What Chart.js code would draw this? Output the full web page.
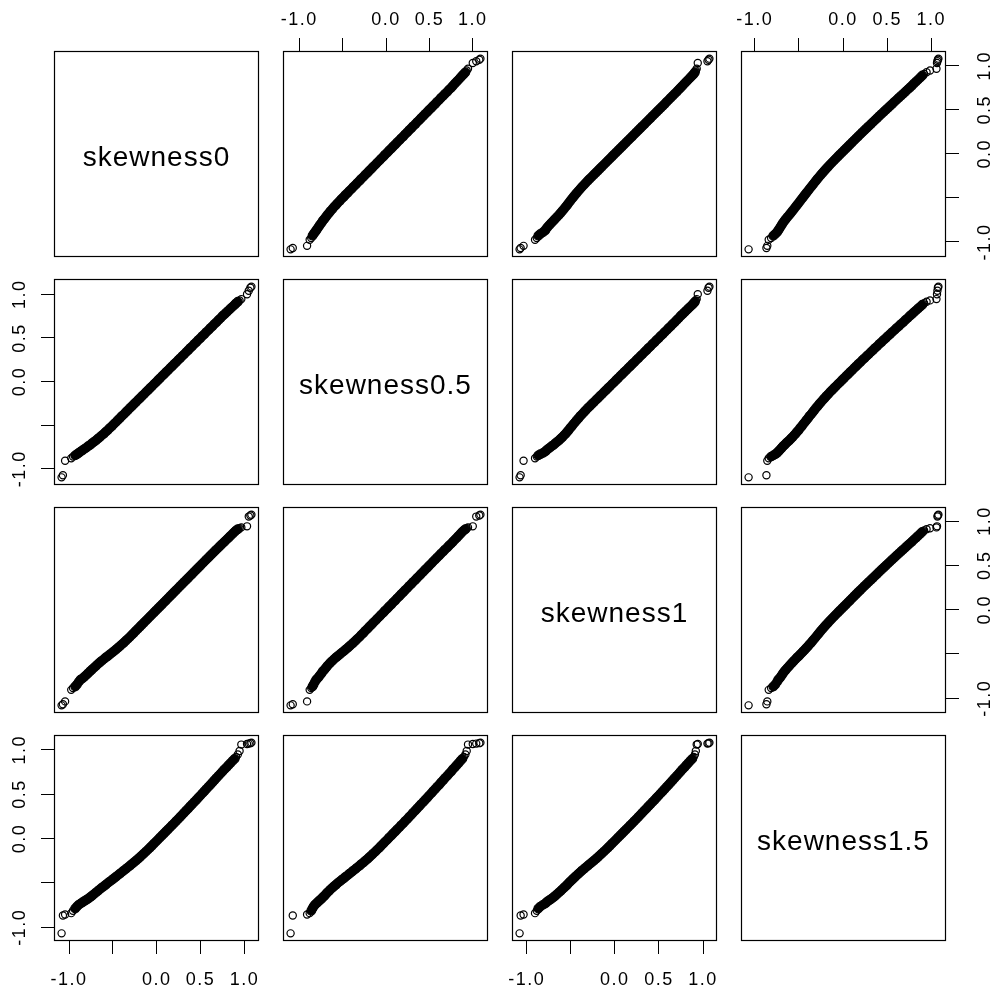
<!DOCTYPE html>
<html>
<head>
<meta charset="utf-8">
<script src="https://cdn.jsdelivr.net/npm/chart.js@4.4.1/dist/chart.umd.min.js"></script>
<style>
  html, body { margin: 0; padding: 0; background: #fff; }
  #wrap { position: relative; width: 998px; height: 993px; overflow: hidden; background: #fff; }
  #wrap canvas { position: absolute; }
</style>
</head>
<body>
<div id="wrap"></div>
<script>
// variable names shown on the diagonal
const varNames = ['skewness0', 'skewness0.5', 'skewness1', 'skewness1.5'];

const skewness0 = [
  -1.085, -1.070, -1.045, -0.975, -0.955, -0.930, -0.910, -0.890, -0.870,
  -0.850, -0.828, -0.805, -0.783, -0.760, -0.741, -0.718, -0.694, -0.672, -0.650,
  -0.627, -0.603, -0.581, -0.560, -0.536, -0.512, -0.490, -0.468, -0.445, -0.421,
  -0.398, -0.376, -0.353, -0.330, -0.306, -0.284, -0.262, -0.238, -0.215, -0.192,
  -0.170, -0.147, -0.123, -0.100, -0.078, -0.055, -0.031, -0.009, 0.014, 0.037,
  0.060, 0.083, 0.105, 0.128, 0.152, 0.175, 0.197, 0.220, 0.244, 0.267,
  0.290, 0.312, 0.336, 0.359, 0.382, 0.404, 0.428, 0.451, 0.474, 0.497,
  0.520, 0.543, 0.566, 0.590, 0.612, 0.635, 0.658, 0.681, 0.705, 0.728,
  0.750, 0.773, 0.797, 0.820, 0.842, 0.866, 0.889, 0.905,
  0.925, 0.945, 0.965, 1.030, 1.050, 1.068, 1.080
];
const skewness05 = [
  -1.100, -1.075, -0.910, -0.880, -0.862, -0.848, -0.835, -0.820, -0.805,
  -0.792, -0.776, -0.761, -0.743, -0.729, -0.711, -0.694, -0.677, -0.657, -0.640,
  -0.618, -0.599, -0.577, -0.559, -0.534, -0.513, -0.489, -0.469, -0.444, -0.422,
  -0.397, -0.377, -0.352, -0.331, -0.305, -0.285, -0.261, -0.239, -0.214, -0.193,
  -0.169, -0.148, -0.122, -0.101, -0.077, -0.056, -0.030, -0.010, 0.015, 0.036,
  0.061, 0.082, 0.106, 0.127, 0.153, 0.174, 0.198, 0.219, 0.245, 0.266,
  0.291, 0.311, 0.337, 0.358, 0.383, 0.403, 0.429, 0.450, 0.475, 0.496,
  0.521, 0.542, 0.567, 0.589, 0.613, 0.634, 0.659, 0.680, 0.706, 0.727,
  0.751, 0.771, 0.794, 0.816, 0.837, 0.859, 0.880, 0.897,
  0.915, 0.930, 0.945, 1.000, 1.040, 1.075, 1.088
];
const skewness1 = [
  -1.080, -1.068, -1.035, -0.905, -0.885, -0.868, -0.845, -0.815, -0.790,
  -0.778, -0.760, -0.739, -0.718, -0.696, -0.678, -0.657, -0.635, -0.615, -0.596,
  -0.577, -0.558, -0.540, -0.525, -0.506, -0.488, -0.470, -0.452, -0.433, -0.412,
  -0.392, -0.373, -0.351, -0.330, -0.307, -0.285, -0.263, -0.239, -0.216, -0.193,
  -0.171, -0.148, -0.124, -0.101, -0.079, -0.056, -0.032, -0.010, 0.013, 0.036,
  0.059, 0.082, 0.104, 0.127, 0.151, 0.174, 0.196, 0.219, 0.243, 0.266,
  0.289, 0.311, 0.335, 0.358, 0.381, 0.403, 0.427, 0.450, 0.473, 0.496,
  0.519, 0.542, 0.565, 0.588, 0.610, 0.633, 0.656, 0.678, 0.702, 0.724,
  0.745, 0.767, 0.790, 0.812, 0.833, 0.856, 0.878, 0.894,
  0.908, 0.918, 0.928, 0.940, 1.050, 1.062, 1.072
];
const skewness15 = [
  -1.070, -0.868, -0.858, -0.842, -0.815, -0.790, -0.768, -0.748, -0.735,
  -0.722, -0.708, -0.694, -0.680, -0.663, -0.648, -0.630, -0.610, -0.592, -0.574,
  -0.556, -0.538, -0.521, -0.504, -0.486, -0.468, -0.451, -0.434, -0.416, -0.397,
  -0.380, -0.362, -0.344, -0.326, -0.307, -0.289, -0.271, -0.251, -0.231, -0.211,
  -0.191, -0.170, -0.148, -0.126, -0.104, -0.082, -0.058, -0.036, -0.013, 0.010,
  0.033, 0.056, 0.078, 0.101, 0.125, 0.148, 0.170, 0.194, 0.218, 0.242,
  0.266, 0.289, 0.314, 0.338, 0.362, 0.385, 0.410, 0.434, 0.459, 0.483,
  0.508, 0.532, 0.557, 0.582, 0.606, 0.631, 0.656, 0.681, 0.706, 0.731,
  0.755, 0.779, 0.803, 0.827, 0.850, 0.875, 0.898, 0.918,
  0.946, 0.985, 1.058, 1.064, 1.069, 1.074, 1.080
];

// axis ticks shared by every panel (R drops the -0.5 label for lack of room)
const tickValues = [-1.0, -0.5, 0.0, 0.5, 1.0];
const tickLabels = ['-1.0', '', '0.0', '0.5', '1.0'];

const series = [skewness0, skewness05, skewness1, skewness15];

// page layout of the 4x4 grid of panels
const colLeft = [54, 283, 512, 741];
const rowTop = [51, 279, 507, 735];
const panelW = 205, panelH = 206;
const M = 50;  // room round each panel for its axes

const tickFont = { family: '"Liberation Sans", Arial, sans-serif', size: 18 };

// R pads the data range by 4% on each side
function axisRange(vals) {
  const lo = Math.min(...vals), hi = Math.max(...vals);
  const pad = (hi - lo) * 0.04;
  return [lo - pad, hi + pad];
}

// points deep inside the band overlap into solid black in the original;
// the sparse tails stay as open circles
function isDense(xs, ys, i) {
  if (i < 2 || i > xs.length - 3) return false;
  const gap = j => Math.max(Math.abs(xs[j] - xs[i]), Math.abs(ys[j] - ys[i]));
  return gap(i - 1) < 0.032 && gap(i + 1) < 0.032 && gap(i - 2) < 0.06 && gap(i + 2) < 0.06;
}

const panelPlugin = {
  id: 'panelBox',
  beforeDraw(chart) {
    chart.ctx.letterSpacing = '1.5px';
  },
  afterDraw(chart) {
    const { ctx, chartArea: a } = chart;
    const label = chart.options.plugins.panelBox.label;
    ctx.save();
    ctx.strokeStyle = '#000';
    ctx.lineWidth = 1.2;
    ctx.strokeRect(a.left + 0.5, a.top + 0.5, a.right - a.left - 1, a.bottom - a.top - 1);
    if (label) {
      ctx.letterSpacing = '1px';
      ctx.fillStyle = '#000';
      ctx.font = '28px "Liberation Sans", Arial, sans-serif';
      ctx.textAlign = 'center';
      ctx.textBaseline = 'alphabetic';
      ctx.fillText(label, (a.left + a.right) / 2, (a.top + a.bottom) / 2 + 12);
    }
    ctx.restore();
  }
};

function makeScale(vals, show, pos, padding, vertical) {
  const [min, max] = axisRange(vals);
  const s = {
    type: 'linear',
    position: pos,
    display: show,
    min: min,
    max: max,
    afterBuildTicks: sc => { sc.ticks = tickValues.map(v => ({ value: v })); },
    grid: { display: true, drawOnChartArea: false, drawTicks: true, tickLength: 13, color: '#000', lineWidth: 1 },
    border: { display: false },
    ticks: {
      color: '#000',
      font: tickFont,
      padding: padding,
      autoSkip: false,
      callback: (v, i) => tickLabels[i]
    }
  };
  if (vertical) {
    s.ticks.minRotation = 90;
    s.ticks.maxRotation = 90;
    s.ticks.crossAlign = 'center';
  } else {
    s.ticks.minRotation = 0;
    s.ticks.maxRotation = 0;
  }
  if (show) {
    s.afterFit = sc => {
      if (vertical) sc.width = M; else sc.height = M;
    };
  }
  return s;
}

const wrap = document.getElementById('wrap');

for (let r = 0; r < 4; r++) {
  for (let c = 0; c < 4; c++) {
    const cv = document.createElement('canvas');
    cv.width = panelW + 2 * M;
    cv.height = panelH + 2 * M;
    cv.style.left = (colLeft[c] - M) + 'px';
    cv.style.top = (rowTop[r] - M) + 'px';
    wrap.appendChild(cv);

    const showTop = r === 0 && c % 2 === 1;
    const showBottom = r === 3 && c % 2 === 0;
    const showLeft = c === 0 && r % 2 === 1;
    const showRight = c === 3 && r % 2 === 0;

    const xs = series[c], ys = series[r];
    const datasets = [];
    if (r !== c) {
      datasets.push({
        data: xs.map((v, i) => ({ x: v, y: ys[i] })),
        pointRadius: ctx => isDense(xs, ys, ctx.dataIndex) ? 4.3 : 3.6,
        pointBorderWidth: 1.2,
        pointBorderColor: '#000',
        pointBackgroundColor: ctx => isDense(xs, ys, ctx.dataIndex) ? '#000' : 'rgba(0,0,0,0)',
        showLine: false
      });
    }

    new Chart(cv, {
      type: 'scatter',
      data: { datasets: datasets },
      options: {
        responsive: false,
        animation: false,
        events: [],
        devicePixelRatio: 1,
        layout: {
          padding: {
            top: showTop ? 0 : M,
            bottom: showBottom ? 0 : M,
            left: showLeft ? 0 : M,
            right: showRight ? 0 : M
          }
        },
        plugins: {
          legend: { display: false },
          tooltip: { enabled: false },
          panelBox: { label: r === c ? varNames[r] : null }
        },
        scales: {
          x: makeScale(xs, showTop || showBottom, showTop ? 'top' : 'bottom', showTop ? 7 : 15, false),
          y: makeScale(ys, showLeft || showRight, showRight ? 'right' : 'left', showLeft ? 5 : 11, true)
        }
      },
      plugins: [panelPlugin]
    });
  }
}
</script>
</body>
</html>
